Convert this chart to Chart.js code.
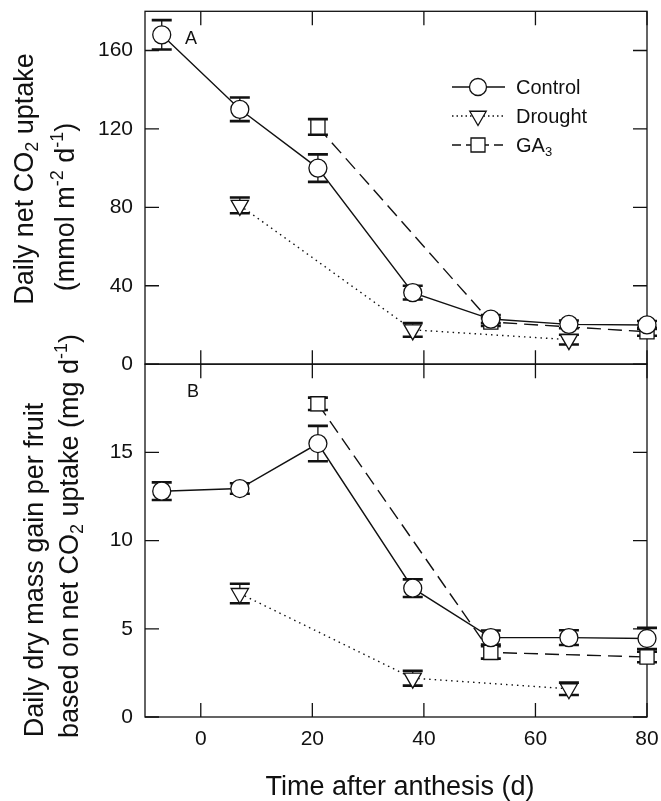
<!DOCTYPE html>
<html>
<head>
<meta charset="utf-8">
<script src="https://cdn.jsdelivr.net/npm/chart.js@4.4.0/dist/chart.umd.min.js"></script>
<style>
  html, body { margin: 0; padding: 0; background: #fff; }
  #wrap { position: relative; width: 661px; height: 801px; }
</style>
</head>
<body>
<div id="wrap"><canvas id="growth" width="661" height="801"></canvas></div>
<script>
// tick values
const xTicks = [0, 20, 40, 60, 80];
const uptakeTicks = [0, 40, 80, 120, 160];
const massTicks = [0, 5, 10, 15];

// sampling days after anthesis
const controlDays = [-7, 7, 21, 38, 52, 66, 80];
const droughtDays = [7, 38, 66];
const ga3Days = [21, 52, 80];

// A: daily net CO2 uptake (mmol m-2 d-1), mean and SE
const controlUptake = [168, 130, 100, 36.5, 23, 20.3, 20];
const controlUptakeErr = [7.5, 6, 7, 3.5, 2, 2, 2];
const droughtUptake = [81, 17.5, 12.5];
const droughtUptakeErr = [4, 3.5, 2.5];
const ga3Uptake = [121, 21.5, 16.5];
const ga3UptakeErr = [4, 2, 2];

// B: daily dry mass gain per fruit (mg d-1), mean and SE
const controlMass = [12.8, 12.95, 15.5, 7.3, 4.5, 4.5, 4.45];
const controlMassErr = [0.5, 0.3, 1.0, 0.5, 0.4, 0.42, 0.6];
const droughtMass = [7.0, 2.2, 1.6];
const droughtMassErr = [0.55, 0.42, 0.35];
const ga3Mass = [17.75, 3.66, 3.4];
const ga3MassErr = [0.35, 0.35, 0.3];

const INK = "#111";
const FAMILY = "'Liberation Sans', Arial, sans-serif";
const font = size => `${size}px ${FAMILY}`;

const points = (days, vals) => days.map((d, i) => ({ x: d, y: vals[i] }));

const looks = {
  control: { pointStyle: "circle", pointRadius: 9, borderDash: [] },
  drought: { pointStyle: "triangle", pointRotation: 180, pointRadius: 10, borderDash: [1.5, 4] },
  ga3: { pointStyle: "rect", pointRadius: 10, borderDash: [14, 7] }
};

function series(label, kind, axis, days, vals, errs) {
  return Object.assign({
    label,
    yAxisID: axis,
    data: points(days, vals),
    errors: errs,
    borderColor: INK,
    borderWidth: 1.4,
    pointBorderColor: INK,
    pointBackgroundColor: "#fff",
    pointBorderWidth: 1.3,
    pointHoverRadius: 0,
    tension: 0,
    clip: false
  }, looks[kind]);
}

const datasets = [
  series("Control", "control", "yA", controlDays, controlUptake, controlUptakeErr),
  series("Drought", "drought", "yA", droughtDays, droughtUptake, droughtUptakeErr),
  series("GA3", "ga3", "yA", ga3Days, ga3Uptake, ga3UptakeErr),
  series("Control", "control", "yB", controlDays, controlMass, controlMassErr),
  series("Drought", "drought", "yB", droughtDays, droughtMass, droughtMassErr),
  series("GA3", "ga3", "yB", ga3Days, ga3Mass, ga3MassErr)
];

// box around each panel with inward tick marks
const frame = {
  id: "frame",
  beforeDatasetsDraw(chart) {
    const ctx = chart.ctx;
    const { left, right } = chart.chartArea;
    const x = chart.scales.x;
    const tick = 14;
    ctx.save();
    ctx.strokeStyle = INK;
    ctx.lineWidth = 1.3;
    ["yA", "yB"].forEach(id => {
      const s = chart.scales[id];
      ctx.strokeRect(left, s.top, right - left, s.bottom - s.top);
      ctx.beginPath();
      xTicks.forEach(v => {
        const px = x.getPixelForValue(v);
        ctx.moveTo(px, s.top); ctx.lineTo(px, s.top + tick);
        ctx.moveTo(px, s.bottom); ctx.lineTo(px, s.bottom - tick);
      });
      s.ticks.forEach(t => {
        const py = s.getPixelForValue(t.value);
        ctx.moveTo(left, py); ctx.lineTo(left + tick, py);
        ctx.moveTo(right, py); ctx.lineTo(right - tick, py);
      });
      ctx.stroke();
    });
    ctx.restore();
  }
};

// standard error bars under the markers
const errorBars = {
  id: "errorBars",
  beforeDatasetsDraw(chart) {
    const ctx = chart.ctx;
    const cap = 10;
    ctx.save();
    ctx.strokeStyle = INK;
    chart.data.datasets.forEach((ds, i) => {
      const meta = chart.getDatasetMeta(i);
      const ys = chart.scales[ds.yAxisID];
      ds.data.forEach((p, j) => {
        const px = meta.data[j].x;
        const top = ys.getPixelForValue(p.y + ds.errors[j]);
        const bot = ys.getPixelForValue(p.y - ds.errors[j]);
        ctx.lineWidth = 1.3;
        ctx.beginPath();
        ctx.moveTo(px, top); ctx.lineTo(px, bot);
        ctx.stroke();
        ctx.lineWidth = 2.6;
        ctx.beginPath();
        ctx.moveTo(px - cap, top); ctx.lineTo(px + cap, top);
        ctx.moveTo(px - cap, bot); ctx.lineTo(px + cap, bot);
        ctx.stroke();
      });
    });
    ctx.restore();
  }
};

// text with sub/superscript parts: [[text, "n" | "sub" | "sup"], ...]
function richText(ctx, parts, x, y, size, vertical, align) {
  const small = Math.round(size * 0.66);
  ctx.save();
  ctx.translate(x, y);
  if (vertical) ctx.rotate(-Math.PI / 2);
  ctx.fillStyle = INK;
  ctx.textBaseline = "alphabetic";
  ctx.textAlign = "left";
  let width = 0;
  parts.forEach(([t, k]) => {
    ctx.font = font(k === "n" ? size : small);
    width += ctx.measureText(t).width;
  });
  let cx = align === "left" ? 0 : -width / 2;
  parts.forEach(([t, k]) => {
    ctx.font = font(k === "n" ? size : small);
    const dy = k === "sub" ? size * 0.2 : k === "sup" ? -size * 0.4 : 0;
    ctx.fillText(t, cx, dy);
    cx += ctx.measureText(t).width;
  });
  ctx.restore();
}

function marker(ctx, kind, x, y) {
  ctx.beginPath();
  if (kind === "control") {
    ctx.arc(x, y, 8.5, 0, Math.PI * 2);
  } else if (kind === "drought") {
    const r = 9.5;
    ctx.moveTo(x, y + r);
    ctx.lineTo(x - r * 0.866, y - r / 2);
    ctx.lineTo(x + r * 0.866, y - r / 2);
    ctx.closePath();
  } else {
    ctx.rect(x - 7, y - 7, 14, 14);
  }
  ctx.fill();
  ctx.stroke();
}

const labels = {
  id: "labels",
  afterDraw(chart) {
    const ctx = chart.ctx;
    const area = chart.chartArea;

    // axis titles
    richText(ctx, [["Daily net CO", "n"], ["2", "sub"], [" uptake", "n"]], 33, 179, 27, true);
    richText(ctx, [["(mmol m", "n"], ["-2", "sup"], [" d", "n"], ["-1", "sup"], [")", "n"]], 74, 207, 27, true);
    richText(ctx, [["Daily dry mass gain per fruit", "n"]], 43, 570, 27, true);
    richText(ctx, [["based on net CO", "n"], ["2", "sub"], [" uptake (mg d", "n"], ["-1", "sup"], [")", "n"]], 78, 536, 27, true);
    richText(ctx, [["Time after anthesis (d)", "n"]], (area.left + area.right) / 2 + 4, 795, 27, false);

    // panel letters
    richText(ctx, [["A", "n"]], 185, 44, 18, false, "left");
    richText(ctx, [["B", "n"]], 187, 397, 18, false, "left");

    // legend
    const rows = [
      { kind: "control", parts: [["Control", "n"]], dash: [] },
      { kind: "drought", parts: [["Drought", "n"]], dash: [1.5, 3] },
      { kind: "ga3", parts: [["GA", "n"], ["3", "sub"]], dash: [9, 5] }
    ];
    rows.forEach((row, i) => {
      const base = 94 + i * 29;
      const ly = base - 7;
      ctx.save();
      ctx.strokeStyle = INK;
      ctx.fillStyle = "#fff";
      ctx.lineWidth = 1.3;
      ctx.setLineDash(row.dash);
      ctx.beginPath();
      ctx.moveTo(452, ly); ctx.lineTo(505, ly);
      ctx.stroke();
      ctx.setLineDash([]);
      marker(ctx, row.kind, 478, ly);
      ctx.restore();
      richText(ctx, row.parts, 516, base, 20, false, "left");
    });
  }
};

const tickFont = { family: FAMILY, size: 21 };

function fitY(s) {
  s.width = 145;
  s.paddingTop = 0;
  s.paddingBottom = 0;
}

new Chart(document.getElementById("growth"), {
  type: "line",
  data: { datasets },
  options: {
    responsive: false,
    animation: false,
    layout: { padding: { top: 10, right: 14, left: 0, bottom: 0 } },
    plugins: {
      legend: { display: false },
      tooltip: { enabled: false }
    },
    scales: {
      x: {
        type: "linear",
        min: -10,
        max: 80,
        afterBuildTicks: s => { s.ticks = xTicks.map(v => ({ value: v })); },
        afterFit: s => { s.height = 84; s.paddingLeft = 0; s.paddingRight = 0; },
        grid: { display: false, drawTicks: false },
        border: { display: false },
        ticks: { font: tickFont, color: INK, padding: 10, maxRotation: 0 }
      },
      // the later scale in a stack is placed on top
      yB: {
        type: "linear",
        position: "left",
        stack: "panels",
        stackWeight: 1,
        min: 0,
        max: 20,
        afterBuildTicks: s => { s.ticks = massTicks.map(v => ({ value: v })); },
        afterFit: fitY,
        grid: { display: false, drawTicks: false },
        border: { display: false },
        ticks: { font: tickFont, color: INK, padding: 12 }
      },
      yA: {
        type: "linear",
        position: "left",
        stack: "panels",
        stackWeight: 1,
        min: 0,
        max: 180,
        afterBuildTicks: s => { s.ticks = uptakeTicks.map(v => ({ value: v })); },
        afterFit: fitY,
        grid: { display: false, drawTicks: false },
        border: { display: false },
        ticks: { font: tickFont, color: INK, padding: 12 }
      }
    }
  },
  plugins: [frame, errorBars, labels]
});
</script>
</body>
</html>
